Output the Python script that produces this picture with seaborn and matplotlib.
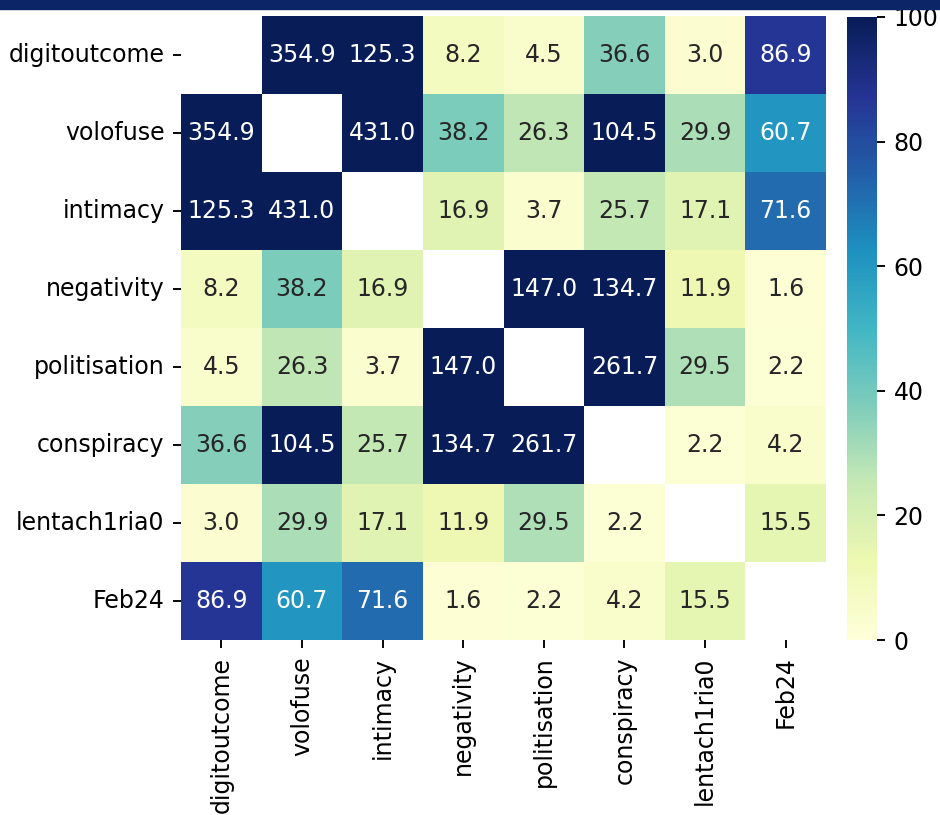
import numpy as np
import pandas as pd
import matplotlib
matplotlib.use("Agg")
import matplotlib.pyplot as plt
from matplotlib.patches import Rectangle
import seaborn as sns

labels = ["digitoutcome", "volofuse", "intimacy", "negativity",
          "politisation", "conspiracy", "lentach1ria0", "Feb24"]

# upper-triangle pair scores (row i, columns i+1 ...)
row_digitoutcome = [354.9, 125.3, 8.2, 4.5, 36.6, 3.0, 86.9]
row_volofuse = [431.0, 38.2, 26.3, 104.5, 29.9, 60.7]
row_intimacy = [16.9, 3.7, 25.7, 17.1, 71.6]
row_negativity = [147.0, 134.7, 11.9, 1.6]
row_politisation = [261.7, 29.5, 2.2]
row_conspiracy = [2.2, 4.2]
row_lentach1ria0 = [15.5]

upper_rows = [row_digitoutcome, row_volofuse, row_intimacy, row_negativity,
              row_politisation, row_conspiracy, row_lentach1ria0]

n = len(labels)
mat = np.full((n, n), np.nan)
for i, vals in enumerate(upper_rows):
    for k, v in enumerate(vals):
        j = i + 1 + k
        mat[i, j] = v
        mat[j, i] = v

df = pd.DataFrame(mat, index=labels, columns=labels)

W, H = 940, 815
dpi = 170
fig = plt.figure(figsize=(W / dpi, H / dpi), dpi=dpi)

ax = fig.add_axes([181 / W, 1 - 640 / H, (826 - 181) / W, (640 - 16) / H])
cax = fig.add_axes([847 / W, 1 - 640 / H, (877 - 847) / W, (640 - 17) / H])

sns.heatmap(df, ax=ax, cbar_ax=cax, cmap="YlGnBu", vmin=0, vmax=100,
            annot=True, fmt=".1f", annot_kws={"fontsize": 10})
ax.set_aspect("auto")
cax.tick_params(labelsize=10)
for sp in cax.spines.values():
    sp.set_visible(False)

# dark band along the top edge
fig.patches.append(Rectangle((0, 1 - 9 / H), 1, 9 / H, transform=fig.transFigure,
                             color="#0c2566", zorder=10))

fig.savefig("out.png", dpi=dpi)
